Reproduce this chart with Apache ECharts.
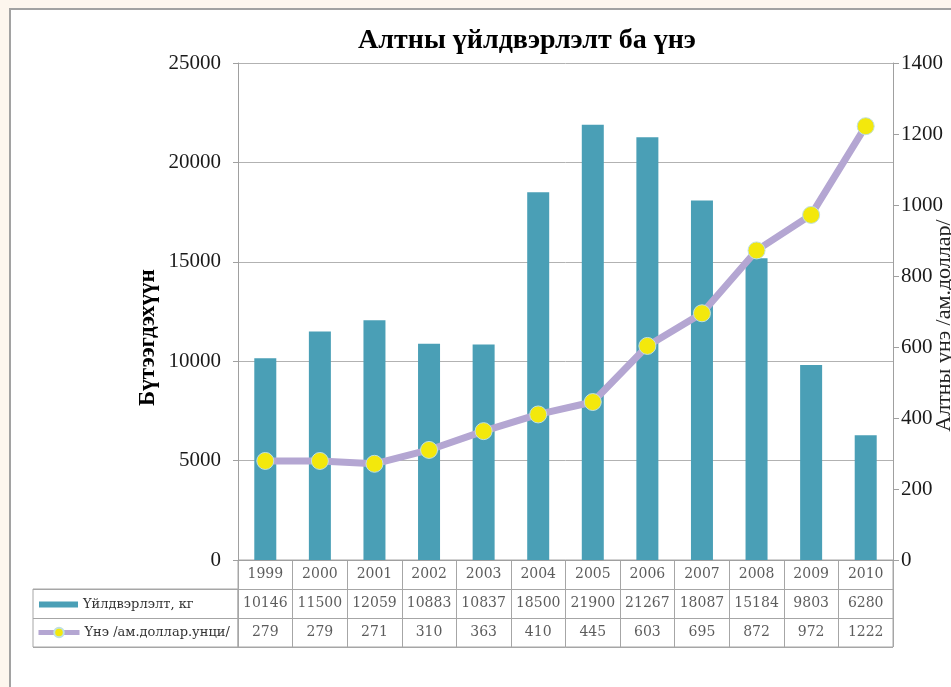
<!DOCTYPE html>
<html>
<head>
<meta charset="utf-8">
<script src="https://cdn.jsdelivr.net/npm/echarts@6/dist/echarts.min.js"></script>
<style>
html,body{margin:0;padding:0;background:#fdf6ee;}
#chart{width:951px;height:687px;}
</style>
</head>
<body>
<div id="chart"></div>
<script>
// ---- data ----
const years = ['1999','2000','2001','2002','2003','2004','2005','2006','2007','2008','2009','2010'];
const production = [10146, 11500, 12059, 10883, 10837, 18500, 21900, 21267, 18087, 15184, 9803, 6280];
const price = [279, 279, 271, 310, 363, 410, 445, 603, 695, 872, 972, 1222];
const prodName = 'Үйлдвэрлэлт, кг';
const priceName = 'Үнэ /ам.доллар.унци/';
const titleText = 'Алтны үйлдвэрлэлт ба үнэ';
const leftAxisName = 'Бүтээгдэхүүн';
const rightAxisName = 'Алтны үнэ /ам.доллар/';

// table cells built from the arrays
const tableCells = [];
years.forEach((y, i) => {
  tableCells.push([i, 0, y]);
  tableCells.push([i, 1, String(production[i])]);
  tableCells.push([i, 2, String(price[i])]);
});

const serif = 'Liberation Serif';
const tableFont = 'DejaVu Serif';
const gridColor = '#b2b2b2';
const tableLine = '#a6a6a6';
const plain = v => String(v);

const chart = echarts.init(document.getElementById('chart'), null, {renderer: 'canvas'});
chart.setOption({
  animation: false,
  backgroundColor: '#fdf6ee',
  graphic: [{
    type: 'rect', z: -100, silent: true,
    shape: {x: 10, y: 9, width: 1000, height: 1000},
    style: {fill: '#ffffff', stroke: '#a2a2a2', lineWidth: 2}
  }],
  title: {
    text: titleText,
    left: 522, top: 22, textAlign: 'center',
    textStyle: {fontFamily: serif, fontWeight: 'bold', fontSize: 28, color: '#000'}
  },
  legend: [{
    data: [{name: prodName, icon: 'rect'}],
    left: 39, top: 598, padding: 0,
    itemWidth: 39, itemHeight: 6,
    textStyle: {fontFamily: tableFont, fontSize: 13, color: '#333'}
  }, {
    data: [{name: priceName}],
    left: 36, top: 626, padding: 0,
    itemWidth: 41, itemHeight: 12,
    lineStyle: {width: 5},
    textStyle: {fontFamily: tableFont, fontSize: 13, color: '#333'}
  }],
  grid: [
    {left: 238, right: 58, top: 63, bottom: 127, outerBoundsMode: 'none', containLabel: false},
    {left: 238, right: 58, top: 560, height: 87, show: true, borderColor: tableLine, borderWidth: 1, outerBoundsMode: 'none', containLabel: false},
    {left: 33, width: 205, top: 589, height: 58, show: true, borderColor: tableLine, borderWidth: 1, outerBoundsMode: 'none', containLabel: false}
  ],
  xAxis: [
    {type: 'category', data: years, gridIndex: 0,
     axisLine: {lineStyle: {color: '#a0a0a0'}}, axisTick: {show: false}, axisLabel: {show: false}},
    {type: 'category', data: years, gridIndex: 1, boundaryGap: true,
     axisLine: {show: false}, axisTick: {show: false}, axisLabel: {show: false},
     splitLine: {show: true, lineStyle: {color: tableLine}}},
    {type: 'value', gridIndex: 2, show: false}
  ],
  yAxis: [
    {type: 'value', gridIndex: 0, min: 0, max: 25000, interval: 5000,
     name: leftAxisName, nameLocation: 'middle', nameGap: 78, nameRotate: 90, nameMoveOverlap: false,
     nameTextStyle: {fontFamily: serif, fontWeight: 'bold', fontSize: 23, color: '#000', padding: [0, 52, 0, 0]},
     axisLine: {show: true, lineStyle: {color: '#a0a0a0'}},
     axisTick: {show: true, length: 5, lineStyle: {color: '#a0a0a0'}},
     axisLabel: {fontFamily: serif, fontSize: 21, color: '#1a1a1a', margin: 17, formatter: plain},
     splitLine: {lineStyle: {color: gridColor}}},
    {type: 'value', gridIndex: 0, position: 'right', min: 0, max: 1400, interval: 200,
     name: rightAxisName, nameLocation: 'middle', nameGap: 40, nameRotate: 90, nameMoveOverlap: false,
     nameTextStyle: {fontFamily: serif, fontSize: 22, color: '#222', padding: [0, 28, 0, 0]},
     axisLine: {show: true, lineStyle: {color: '#a0a0a0'}},
     axisTick: {show: true, length: 6, lineStyle: {color: '#a0a0a0'}},
     axisLabel: {fontFamily: serif, fontSize: 21, color: '#1a1a1a', margin: 8, formatter: plain},
     splitLine: {show: false}},
    {type: 'category', gridIndex: 1, data: ['years', 'production', 'price'], inverse: true,
     axisLine: {show: false}, axisTick: {show: false}, axisLabel: {show: false},
     splitLine: {show: true, lineStyle: {color: tableLine}}},
    {type: 'category', gridIndex: 2, data: [prodName, priceName], inverse: true,
     axisLine: {show: false}, axisTick: {show: false}, axisLabel: {show: false},
     splitLine: {show: true, lineStyle: {color: tableLine}}}
  ],
  series: [
    {name: prodName, type: 'bar', xAxisIndex: 0, yAxisIndex: 0, data: production,
     barWidth: 22, itemStyle: {color: '#4a9fb6'}},
    {name: priceName, type: 'line', xAxisIndex: 0, yAxisIndex: 1, data: price,
     symbol: 'circle', symbolSize: 17, z: 5,
     lineStyle: {color: '#b4a6d2', width: 7},
     itemStyle: {color: '#f3e80c', borderColor: '#bfe0e0', borderWidth: 1}},
    {name: 'table', type: 'scatter', xAxisIndex: 1, yAxisIndex: 2, data: tableCells,
     symbolSize: 2, itemStyle: {color: 'rgba(0,0,0,0)'}, silent: true,
     labelLayout: {hideOverlap: false},
     label: {show: true, position: 'inside', formatter: p => p.value[2],
       fontFamily: tableFont, fontSize: 14, color: '#333'}}
  ]
});
</script>
</body>
</html>
